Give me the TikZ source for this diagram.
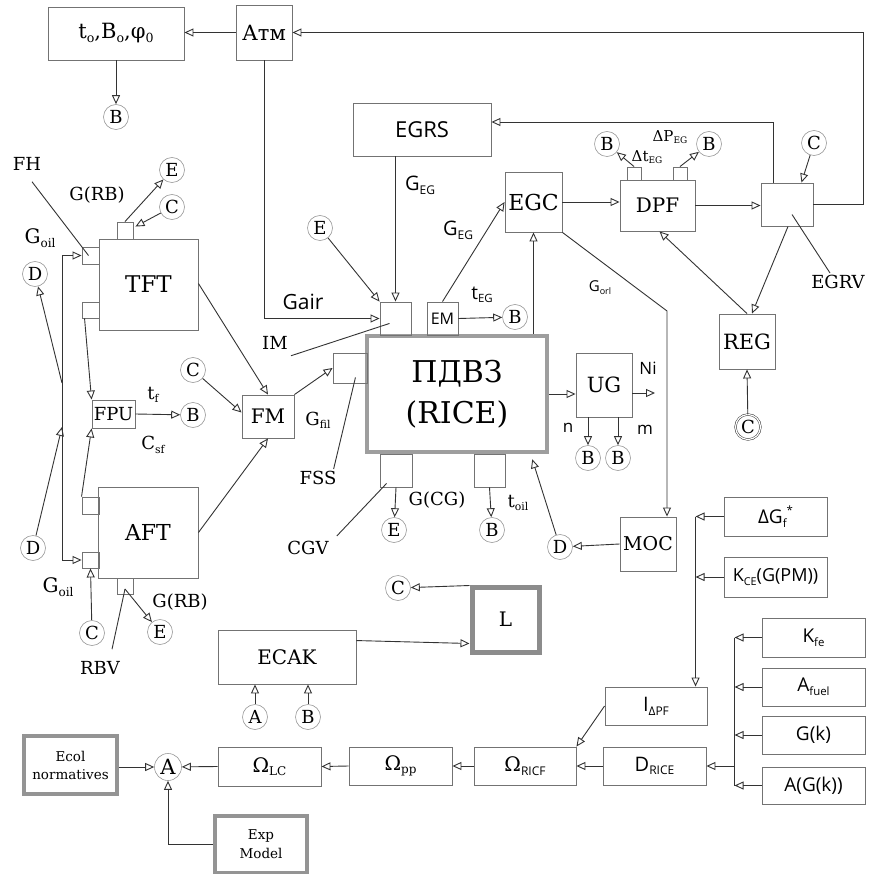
\documentclass[tikz,border=0pt]{standalone}
\usepackage{fontspec}
\setmainfont{DejaVu Serif}
\newfontfamily\sansf{Open Sans}
\usepackage{graphicx}
\usetikzlibrary{arrows.meta,calc}
\newcommand\myfs[1]{\fontsize{#1}{#1}\selectfont}
\newcommand\lowr[1]{\raisebox{-0.35ex}{\scalebox{0.6}{#1}}}
\definecolor{ln}{gray}{0.2}
\definecolor{bx}{gray}{0.45}
\begin{document}
\begin{tikzpicture}[x=1pt,y=-1pt,
  box/.style={draw=bx, line width=0.9pt, inner sep=0pt, align=center},
  fatbox/.style={draw=black!38, line width=4.5pt, inner sep=0pt, align=center},
  circ/.style={circle, draw=black!40, line width=0.6pt, minimum size=25pt, inner sep=0pt, font={\myfs{18}}},
  lbl/.style={inner sep=0pt},
  arr/.style={draw=ln, line width=0.9pt, -{Triangle[open, length=9pt, width=8pt]}},
  arrboth/.style={draw=ln, line width=0.9pt, {Triangle[open, length=9pt, width=8pt]}-{Triangle[open, length=9pt, width=8pt]}},
  pln/.style={draw=ln, line width=0.9pt}]
\useasboundingbox (0,0) rectangle (870,874);
\fill[white] (0,0) rectangle (870,874);

% ---- boxes
\node[box, minimum width=136pt, minimum height=53pt] (tbox) at (116,33.5) {\myfs{21}t\lowr{o},B\lowr{o},φ\lowr{0}};
\node[box, minimum width=56pt, minimum height=55pt] (atm) at (264,32.5) {\myfs{21}Атм};
\node[box, minimum width=138pt, minimum height=53pt] (egrs) at (422,129.5) {\sansf\myfs{22}EGRS};
\node[box, minimum width=57pt, minimum height=60pt] (egc) at (533.5,202) {\myfs{22}EGC};
\node[box, minimum width=75pt, minimum height=51pt] (dpf) at (657.5,205.5) {\myfs{20}DPF};
\node[box, minimum width=14pt, minimum height=13pt] (dpfa) at (634,173.5) {};
\node[box, minimum width=14pt, minimum height=13pt] (dpfb) at (680,173.5) {};
\node[box, minimum width=52pt, minimum height=43pt] (egrv) at (787,204.5) {};
\node[box, minimum width=56pt, minimum height=55pt] (reg) at (747,341.5) {\myfs{21}REG};
\node[box, minimum width=56pt, minimum height=64pt] (ug) at (604,385) {\myfs{21}UG};
\node[fatbox, minimum width=180pt, minimum height=116pt, font={\fontsize{30}{41}\selectfont}] (rice) at (457,394) {ПДВЗ\\(RICE)};
\node[box, minimum width=31pt, minimum height=33pt] (imbox) at (395.5,318.5) {};
\node[box, minimum width=31pt, minimum height=33pt] (em) at (442.5,318.5) {\sansf\myfs{16}EM};
\node[box, minimum width=34pt, minimum height=30pt] (fibox) at (350,368) {};
\node[box, minimum width=32pt, minimum height=33pt] (cgbox) at (396,470.5) {};
\node[box, minimum width=31pt, minimum height=33pt] (oilbox) at (489.5,470.5) {};
\node[box, minimum width=52pt, minimum height=43pt] (fm) at (268,416.5) {\myfs{20}FM};
\node[box, minimum width=43pt, minimum height=28pt] (fpu) at (113.5,414) {\myfs{18}FPU};
\node[box, minimum width=99pt, minimum height=91pt] (tft) at (148.5,284.5) {\myfs{23}TFT};
\node[box, minimum width=16pt, minimum height=17pt] (tfta) at (125,230.5) {};
\node[box, minimum width=17pt, minimum height=17pt] (tftb) at (90.5,255.5) {};
\node[box, minimum width=17pt, minimum height=16pt] (tftc) at (90.5,310) {};
\node[box, minimum width=100pt, minimum height=91pt] (aft) at (148,532.5) {\myfs{22}AFT};
\node[box, minimum width=17pt, minimum height=17pt] (afta) at (90.5,505.5) {};
\node[box, minimum width=17pt, minimum height=16pt] (aftb) at (90.5,560) {};
\node[box, minimum width=16pt, minimum height=16pt] (aftc) at (125,586) {};
\node[box, minimum width=56pt, minimum height=54pt] (moc) at (648,544) {\myfs{19}MOC};
\node[box, minimum width=103pt, minimum height=39pt] (dg) at (775.5,516.5) {\sansf\myfs{19}ΔG\lowr{f}\raisebox{0.9ex}{\scalebox{0.6}{*}}};
\node[box, minimum width=103pt, minimum height=40pt] (kce) at (775.5,577) {\sansf\myfs{18}K\lowr{CE}(G(PM))};
\node[fatbox, draw=black!45, line width=5pt, minimum width=67pt, minimum height=65pt] (L) at (505.5,619.5) {\myfs{20}L};
\node[box, minimum width=138pt, minimum height=54pt] (ecak) at (287,657) {\myfs{20}ECAK};
\node[box, minimum width=102pt, minimum height=38pt] (idpf) at (656,706) {\sansf\myfs{20}I\lowr{ΔPF}};
\node[box, minimum width=103pt, minimum height=38pt] (drice) at (654.5,766) {\sansf\myfs{20}D\lowr{RICE}};
\node[box, minimum width=102pt, minimum height=38pt] (oricf) at (525,766) {\myfs{20}Ω\lowr{\sansf RICF}};
\node[box, minimum width=103pt, minimum height=38pt] (opp) at (400.5,766) {\myfs{20}Ω\lowr{pp}};
\node[box, minimum width=103pt, minimum height=39pt] (olc) at (269.5,766.5) {\myfs{20}Ω\lowr{LC}};
\node[fatbox, line width=4pt, draw=black!42, minimum width=93pt, minimum height=58pt, font={\fontsize{13.5}{18}\selectfont}] (ecol) at (70.5,765) {Ecol\\normatives};
\node[fatbox, line width=4pt, draw=black!42, minimum width=92pt, minimum height=57pt, font={\fontsize{13.5}{19}\selectfont}] (exp) at (261,844.5) {Exp\\Model};
\node[box, minimum width=103pt, minimum height=39pt] (kfe) at (813.5,637.5) {\sansf\myfs{19}K\lowr{fe}};
\node[box, minimum width=103pt, minimum height=38pt] (afuel) at (813.5,687) {\sansf\myfs{19}A\lowr{fuel}};
\node[box, minimum width=103pt, minimum height=38pt] (gk) at (813.5,735) {\sansf\myfs{19}G(k)};
\node[box, minimum width=103pt, minimum height=37pt] (agk) at (813.5,785.5) {\sansf\myfs{19}A(G(k))};

% ---- circles
\node[circ] (cB1) at (116,117) {B};
\node[circ] (cE1) at (172,170) {E};
\node[circ] (cC1) at (172,207) {C};
\node[circ] (cD1) at (35,274) {D};
\node[circ] (cD2) at (33,548) {D};
\node[circ] (cB2) at (193,415) {B};
\node[circ] (cC2) at (193,370) {C};
\node[circ] (cC3) at (92,633) {C};
\node[circ] (cE3) at (160,632) {E};
\node[circ] (cE4) at (320,228) {E};
\node[circ] (cB3) at (515,317) {B};
\node[circ] (cB4) at (607,144) {B};
\node[circ] (cB5) at (709,144) {B};
\node[circ] (cC4) at (814,143) {C};
\node[circ, draw=ln, double=white, double distance=1.2pt, line width=0.5pt] (cC5) at (748,427) {C};
\node[circ] (cB6) at (588,458) {B};
\node[circ] (cB7) at (618,458) {B};
\node[circ] (cE5) at (394,530) {E};
\node[circ] (cB8) at (492,530) {B};
\node[circ] (cD3) at (560,547) {D};
\node[circ] (cC6) at (398,588) {C};
\node[circ] (cA1) at (255,717) {A};
\node[circ] (cB9) at (308,717) {B};
\node[circ, minimum size=27pt, font={\myfs{21}}] (cA2) at (168,767) {A};

% ---- labels
\node[lbl] (fhlab) at (27,164) {\myfs{18}FH};
\node[lbl] (grb1) at (97,195) {\myfs{18}G(RB)};
\node[lbl] (goil1) at (40,238) {\myfs{20}G\lowr{oil}};
\node[lbl] (tflab) at (153,395) {\myfs{18}t\lowr{f}};
\node[lbl] (csflab) at (153,445) {\myfs{18}C\lowr{sf}};
\node[lbl] (goil2) at (58,587) {\myfs{20}G\lowr{oil}};
\node[lbl] (grb2) at (180,602) {\myfs{18}G(RB)};
\node[lbl] (rbvlab) at (100,668) {\myfs{18}RBV};
\node[lbl] (gairlab) at (303,302) {\sansf\myfs{21}Gair};
\node[lbl] (imlab) at (275,343) {\myfs{18}IM};
\node[lbl] (gfillab) at (318,420) {\myfs{18}G\lowr{fil}};
\node[lbl] (fsslab) at (318,478) {\myfs{18}FSS};
\node[lbl] (cgvlab) at (308,548) {\myfs{18}CGV};
\node[lbl] (gcglab) at (437,500) {\myfs{18}G(CG)};
\node[lbl] (toillab) at (518,503) {\myfs{18}t\lowr{oil}};
\node[lbl] (geg1) at (420,185) {\sansf\myfs{20}G\lowr{EG}};
\node[lbl] (geg2) at (458,230) {\sansf\myfs{20}G\lowr{EG}};
\node[lbl] (teglab) at (482,295) {\sansf\myfs{19}t\lowr{EG}};
\node[lbl] (gorllab) at (600,288) {\sansf\myfs{15}G\lowr{orl}};
\node[lbl] (nilab) at (648,368) {\sansf\myfs{17}Ni};
\node[lbl] (nlab) at (568,428) {\sansf\myfs{17}n};
\node[lbl] (mlab) at (645,430) {\sansf\myfs{17}m};
\node[lbl] (dteg) at (647,157) {\myfs{15}Δt\lowr{EG}};
\node[lbl] (dpeg) at (670,137) {\myfs{15}ΔP\lowr{EG}};
\node[lbl] (egrvlab) at (838,282) {\myfs{18}EGRV};

% ---- connectors (top)
\draw[arr] (atm.west) -- (atm.west -| tbox.east);
\draw[arr] (tbox.south) -- (cB1);
\draw[arr] (atm.south) |- (imbox.west);
\draw[arr] (egrs.south -| imbox.north) -- (imbox.north);
\draw[arr] (cE4) -- (imbox.north west);
\draw[pln] ($(imlab.south east)+(3,6)$) -- ($(imbox.south west)+(10,-12)$);
\draw[arr] (em.north) -- (egc.west);
\draw[arr] (em.east) -- (cB3);
\draw[arr] (rice.north -| egc.south) -- (egc.south);
\draw[arr] (egc.east) -- (egc.east -| dpf.west);
\draw[arr] (dpf.east) -- (dpf.east -| egrv.west);
\draw[arr] ($(egrv.north west)+(13,0)$) |- ($(egrs.east)+(0,-7.5)$);
\draw[arr] (egrv.east) -- ++(50,0) |- (atm.east);
\draw[arr] (cC4) -- ($(egrv.north east)+(-12,0)$);
\draw[arr] (dpfa.north) -- (cB4);
\draw[arr] (dpfb.north) -- (cB5);
\draw[arr] (reg.north) -- ($(dpf.south)+(2,0)$);
\draw[arr] ($(egrv.south)+(1,0)$) -- ($(reg.north)+(5,0)$);
\draw[pln] ($(egrv.center)+(5,10)$) -- ($(egrvlab.north)+(-8,-2)$);
\draw[arr] (cC5) -- (reg.south);
\coordinate (gorl) at (667,311);
\draw[arr] (egc.south east) -- (gorl) -- (gorl |- moc.north);
\draw[arr] (rice.east) -- (rice.east -| ug.west);
\coordinate (niend) at (655,393);
\draw[arr] (niend -| ug.east) -- (niend);
\draw[arr] (ug.south -| cB6) -- (cB6);
\draw[arr] (ug.south -| cB7) -- (cB7);
\draw[arr] (moc.west) -- (cD3);
\draw[arr] (cD3) -- ($(rice.south east)+(-17,5)$);
\draw[arr] (cgbox.south) -- (cE5);
\draw[arr] (oilbox.south) -- (cB8);
\draw[pln] ($(cgvlab.north east)+(8,-5)$) -- ($(cgbox.south west)+(7,-4)$);
\draw[pln] ($(fsslab.north east)+(-3,-2)$) -- ($(fibox.south east)+(-12,-6)$);
% ---- left side
\draw[arr] (fm.north east) -- (fibox.west);
\draw[arr] (cC2) -- ($(fm.west)+(0,-4)$);
\draw[arr] ($(tft.east)+(0,-1)$) -- (fm.north);
\draw[arr] (aft.east) -- (fm.south);
\draw[arr] (fpu.east) -- (cB2);
\draw[arr] ($(tftc.south west)+(3,0)$) -- (fpu.north west);
\draw[arr] (afta.north west) -- (fpu.south west);
\coordinate (vt) at (62,255.5);
\coordinate (vb) at (62,560);
\coordinate (vd1) at (62,383);
\coordinate (vd2) at (62,427);
\draw[arrboth] (tftb.west) -- (vt) -- (vb) -- (aftb.west);
\draw[arr] (vd1) -- (cD1);
\draw[arr] (cD2) -- (vd2);
\draw[pln] ($(fhlab.south)+(5,11)$) -- ($(tftb.center)+(-2,0)$);
\draw[arr] (tfta.north) -- (cE1);
\draw[arr] (cC1) -- ($(tfta.north east)+(2,5)$);
\draw[arr] (cC3) -- (aftb.south);
\draw[arr] ($(aftc.center)+(0,3)$) -- (cE3);
\draw[pln] ($(rbvlab.north)+(12,-12)$) -- ($(aftc.center)+(0,3)$);
% ---- bottom
\draw[arr] ($(ecak.north east)+(0,11)$) -- ($(L.south west)+(0,-11)$);
\draw[arr] ($(L.north west)+(0,1)$) -- (cC6);
\draw[arr] (cA1) -- (cA1 |- ecak.south);
\draw[arr] (cB9) -- (cB9 |- ecak.south);
\coordinate (vk) at ($(dg.west)+(-28,0)$);
\draw[arr] (dg.west) -- (vk);
\draw[arr] (kce.west) -- (kce.west -| vk);
\draw[arr] (vk) -- (vk |- idpf.north);
\draw[arr] (idpf.west) -- (oricf.north east);
\draw[arr] (drice.west) -- (oricf.east);
\draw[arr] (oricf.west) -- (opp.east);
\draw[arr] (opp.west) -- (olc.east);
\draw[arr] (olc.west) -- (cA2);
\draw[arr] (ecol.east |- cA2) -- (cA2);
\draw[arr] (exp.west) -| (cA2.south);
\coordinate (rk) at ($(kfe.west)+(-27,0)$);
\draw[pln] (rk) -- (rk |- agk.west);
\draw[arr] (kfe.west) -- (rk);
\draw[arr] (afuel.west) -- (afuel.west -| rk);
\draw[arr] (gk.west) -- (gk.west -| rk);
\draw[arr] (agk.west) -- (agk.west -| rk);
\draw[arr] (rk |- drice.east) -- (drice.east);
\end{tikzpicture}
\end{document}
